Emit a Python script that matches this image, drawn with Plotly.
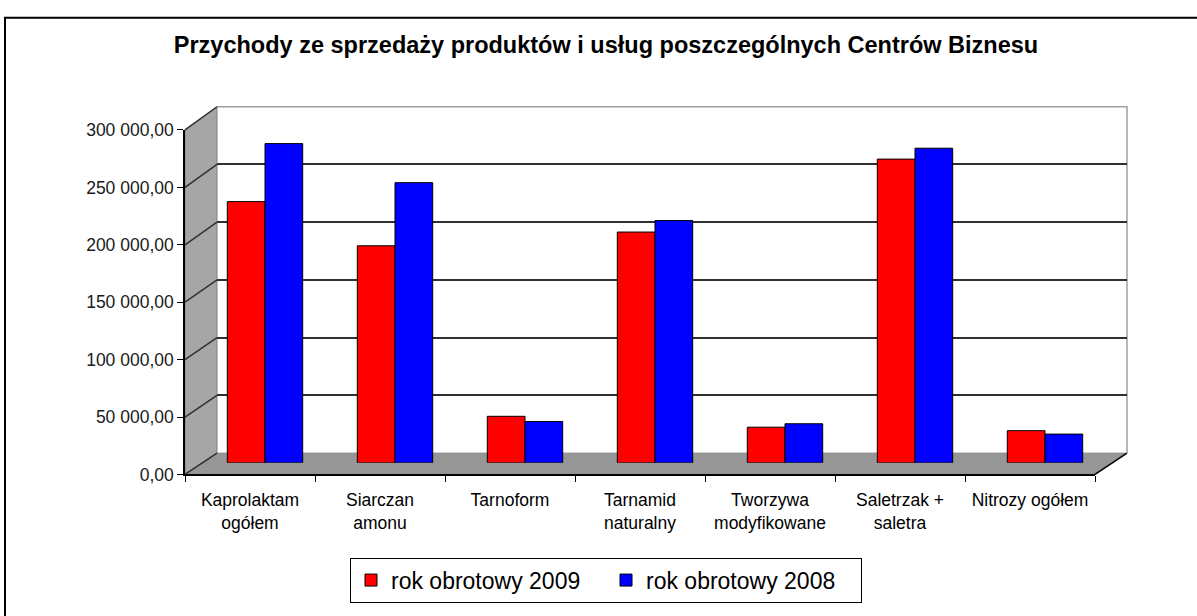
import plotly.graph_objects as go

# ---- data ----
categories = ["Kaprolaktam<br>ogółem", "Siarczan<br>amonu", "Tarnoform", "Tarnamid<br>naturalny",
              "Tworzywa<br>modyfikowane", "Saletrzak +<br>saletra", "Nitrozy ogółem"]
rok_2009 = [227500, 189000, 40500, 201000, 31000, 264500, 28000]
rok_2008 = [278000, 244000, 36000, 211000, 34000, 274000, 25000]
tick_vals = [0, 50000, 100000, 150000, 200000, 250000, 300000]
tick_text = ["0,00", "50 000,00", "100 000,00", "150 000,00", "200 000,00", "250 000,00", "300 000,00"]
title_text = "Przychody ze sprzedaży produktów i usług poszczególnych Centrów Biznesu"

W, H = 1197, 616
def px(x):
    return x / W
def py(y):
    return 1 - y / H

# geometry in screen pixels
FX0, FX1, FY0, FY1 = 185, 1095, 480, 124      # front plane
DX, DY = 32, -22                                # depth offset
BX0, BX1, BY0, BY1 = FX0 + DX, FX1 + DX, FY0 + DY, FY1 + DY - 2
MX, MY = 15, -12                                # bars plane

fig = go.Figure()
fig.add_trace(go.Scatter(x=categories, y=[None] * len(categories), xaxis="x", yaxis="y",
                         showlegend=False, hoverinfo="skip"))
fig.add_trace(go.Scatter(x=categories, y=[None] * len(categories), xaxis="x2", yaxis="y2",
                         showlegend=False, hoverinfo="skip"))
fig.add_trace(go.Bar(x=categories, y=rok_2009, name="rok obrotowy 2009", xaxis="x3", yaxis="y3",
                     marker=dict(color="#FF0000", line=dict(color="#000000", width=1))))
fig.add_trace(go.Bar(x=categories, y=rok_2008, name="rok obrotowy 2008", xaxis="x3", yaxis="y3",
                     marker=dict(color="#0000FF", line=dict(color="#000000", width=1))))

font_family = "Liberation Sans, Arial, sans-serif"
cat_range = [-0.5, len(categories) - 0.5]
yr = [0, 300000]

shapes = []
# outer chart border (open to the right/bottom as in the source)
shapes.append(dict(type="rect", xref="paper", yref="paper", x0=px(5), x1=px(W + 20), y0=py(8),
                   y1=py(H + 20), line=dict(color="#000000", width=2), layer="below"))
# left wall
shapes.append(dict(type="path", xref="paper", yref="paper",
                   path=f"M {px(FX0)},{py(FY0)} L {px(FX0)},{py(FY1)} L {px(BX0)},{py(BY1)} L {px(BX0)},{py(BY0)} Z",
                   fillcolor="#A6A6A6", line=dict(color="#808080", width=1), layer="below"))
# floor
shapes.append(dict(type="path", xref="paper", yref="paper",
                   path=f"M {px(FX0)},{py(FY0)} L {px(FX1)},{py(FY0)} L {px(BX1)},{py(BY0)} L {px(BX0)},{py(BY0)} Z",
                   fillcolor="#969696", line=dict(color="#808080", width=1), layer="below"))
# floor right edge
shapes.append(dict(type="line", xref="paper", yref="paper", x0=px(FX1), y0=py(FY0), x1=px(BX1), y1=py(BY0),
                   line=dict(color="#000000", width=1.5), layer="below"))
# back wall border
shapes.append(dict(type="path", xref="paper", yref="paper",
                   path=f"M {px(BX0)},{py(BY1)} L {px(BX1)},{py(BY1)} L {px(BX1)},{py(BY0)}",
                   line=dict(color="#A0A0A0", width=1.5), layer="below"))
# slanted gridlines on left wall
for v in tick_vals:
    yf = FY0 + (FY1 - FY0) * v / yr[1]
    yb = BY0 + (BY1 - BY0) * v / yr[1]
    shapes.append(dict(type="line", xref="paper", yref="paper", x0=px(FX0), y0=py(yf), x1=px(BX0), y1=py(yb),
                       line=dict(color="#303030", width=1.5), layer="below"))

fig.update_layout(
    width=W, height=H, autosize=False,
    margin=dict(l=0, r=0, t=0, b=0),
    paper_bgcolor="#FFFFFF", plot_bgcolor="rgba(0,0,0,0)",
    font=dict(family=font_family, color="#000000"),
    barmode="group", bargap=0.42, bargroupgap=0.0,
    title=dict(text=f"<b>{title_text}</b>", x=px(606), xanchor="center", y=py(45), yanchor="middle",
               font=dict(size=23.5, family=font_family, color="#000000")),
    xaxis=dict(domain=[px(FX0), px(FX1)], range=cat_range, type="category", tickson="boundaries",
               showline=True, linecolor="#000000", linewidth=1.5, ticks="outside", ticklen=6,
               tickcolor="#000000", showgrid=False, zeroline=False, ticklabelstandoff=9,
               tickfont=dict(size=17.5, family=font_family, color="#000000"), fixedrange=True),
    yaxis=dict(domain=[py(FY0), py(FY1)], range=yr, tickvals=tick_vals, ticktext=tick_text,
               showline=True, linecolor="#000000", linewidth=1.5, ticks="outside", ticklen=6,
               tickcolor="#000000", showgrid=False, zeroline=False,
               tickfont=dict(size=17.5, family=font_family, color="#1a1a1a"), fixedrange=True),
    xaxis2=dict(domain=[px(BX0), px(BX1)], range=cat_range, type="category", visible=False, anchor="y2"),
    yaxis2=dict(domain=[py(BY0), py(BY1)], range=yr, tickvals=tick_vals[1:-1], showticklabels=False,
                showgrid=True, gridcolor="#303030", gridwidth=2, zeroline=False, ticks="", anchor="x2"),
    xaxis3=dict(domain=[px(FX0 + MX), px(FX1 + MX)], range=cat_range, type="category", visible=False,
                anchor="y3"),
    yaxis3=dict(domain=[py(FY0 + MY), py(FY1 + MY)], range=yr, visible=False, anchor="x3"),
    legend=dict(orientation="h", x=px(606), xanchor="center", y=py(566), yanchor="top",
                bordercolor="#000000", borderwidth=1, bgcolor="#FFFFFF",
                font=dict(size=23, family=font_family, color="#000000"),
                itemwidth=30, tracegroupgap=0, entrywidth=210),
    shapes=shapes,
    showlegend=True,
)

fig.write_html("out.html", config={"displayModeBar": False},
               post_script="document.documentElement.style.margin='0';document.body.style.margin='0';"
                           "document.documentElement.style.overflow='hidden';document.body.style.overflow='hidden';")
